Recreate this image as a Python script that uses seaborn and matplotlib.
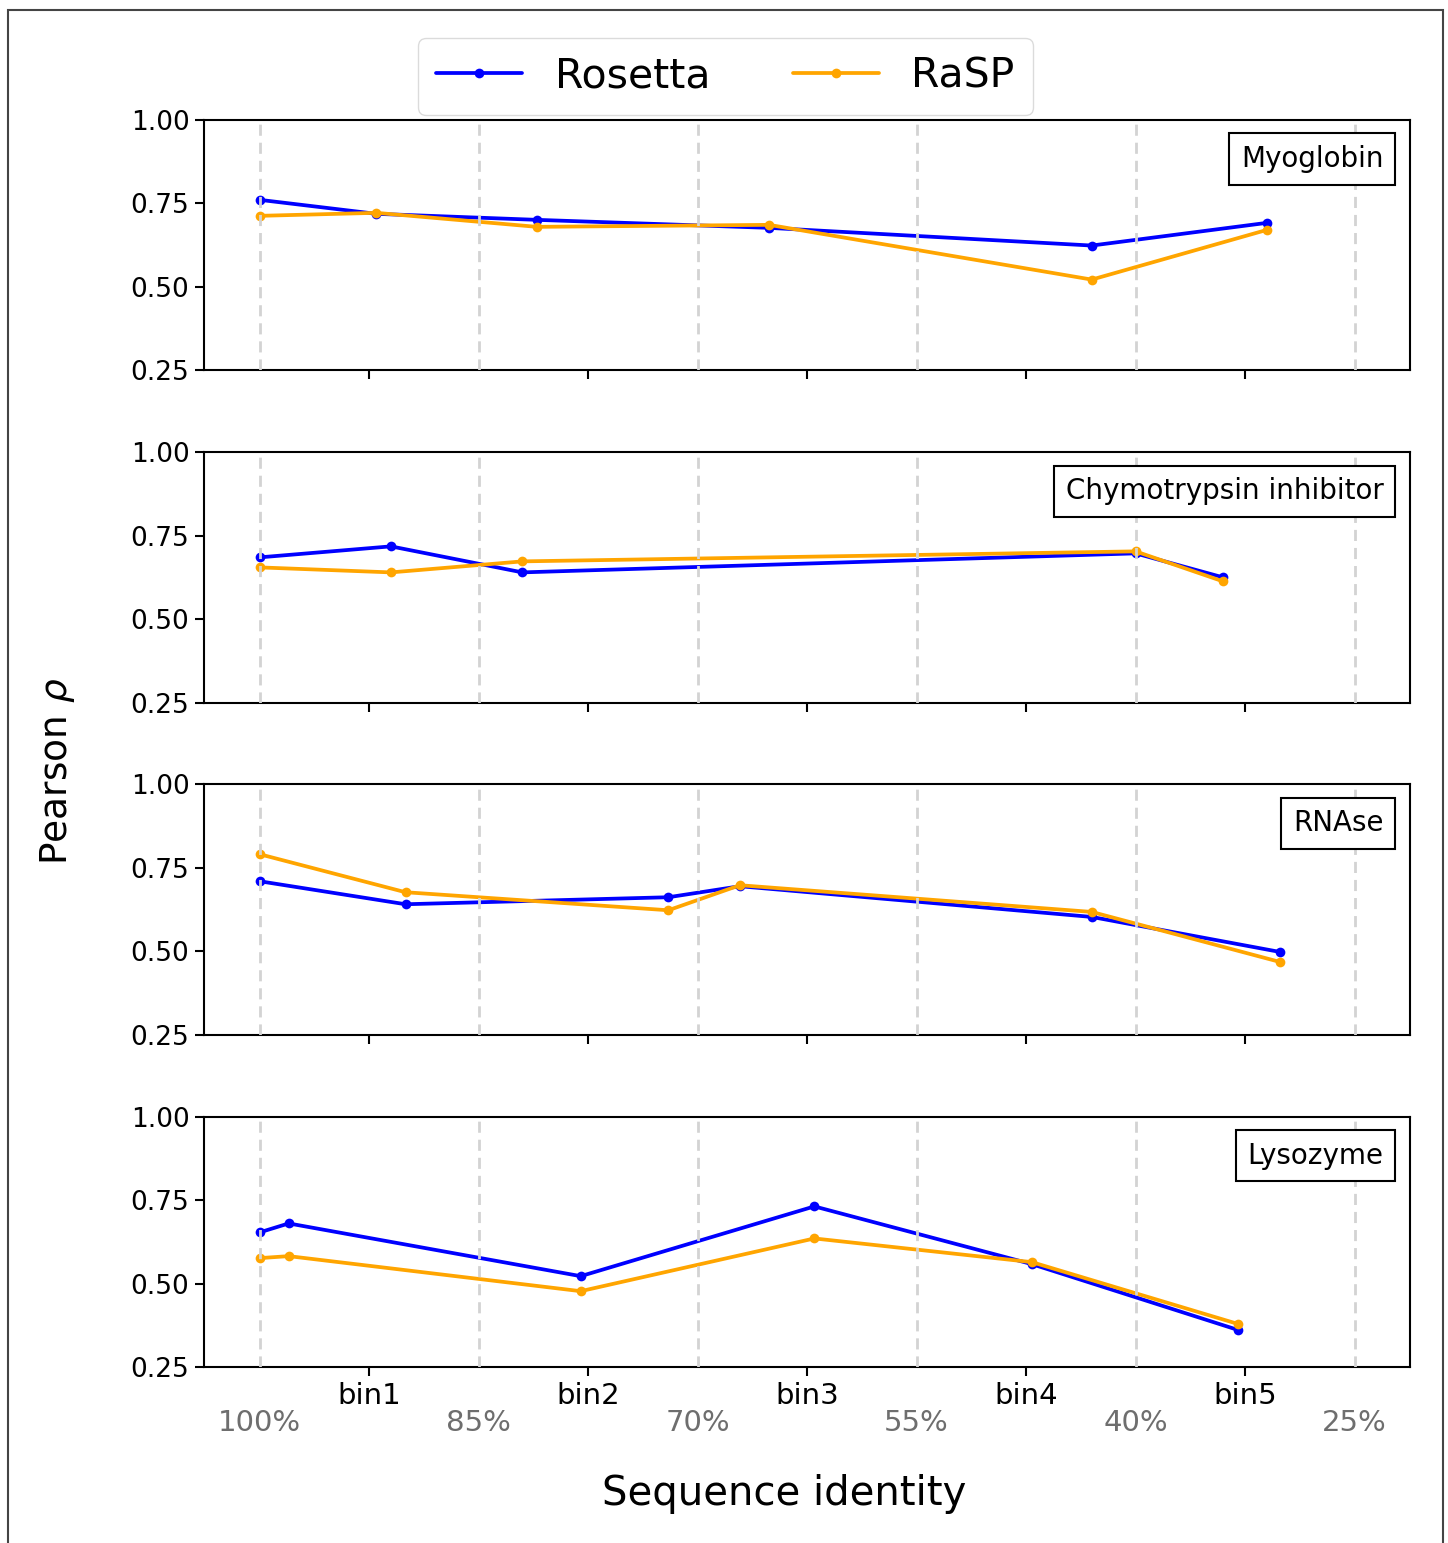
'''
    Pearson rho vs sequence identity, Rosetta vs RaSP
'''

import matplotlib.pyplot as plt
import pandas as pd
import seaborn as sns
from matplotlib.lines import Line2D
from matplotlib.patches import Rectangle

# ---------------------------------------- data ----------------------------------------
proteins = ['Myoglobin', 'Chymotrypsin inhibitor', 'RNAse', 'Lysozyme']

myo_identity = [100, 92.0, 81.0, 65.1, 43.0, 31.0]
myo_rosetta = [0.761, 0.719, 0.701, 0.677, 0.624, 0.692]
myo_rasp = [0.713, 0.722, 0.680, 0.686, 0.522, 0.671]

chy_identity = [100, 91.0, 82.0, 40.0, 34.0]
chy_rosetta = [0.685, 0.718, 0.640, 0.697, 0.625]
chy_rasp = [0.655, 0.640, 0.673, 0.703, 0.613]

rna_identity = [100, 90.0, 72.0, 67.1, 43.0, 30.1]
rna_rosetta = [0.710, 0.641, 0.662, 0.695, 0.603, 0.498]
rna_rasp = [0.791, 0.677, 0.623, 0.698, 0.618, 0.468]

lys_identity = [100, 98.0, 78.0, 62.0, 47.1, 33.0]
lys_rosetta = [0.653, 0.680, 0.522, 0.731, 0.558, 0.361]
lys_rasp = [0.576, 0.582, 0.477, 0.635, 0.564, 0.379]

bin_pos = [92.5, 77.5, 62.5, 47.5, 32.5]
bin_labels = ['bin1', 'bin2', 'bin3', 'bin4', 'bin5']
pct_pos = [100, 85, 70, 55, 40, 25]
pct_labels = ['100%', '85%', '70%', '55%', '40%', '25%']
y_ticks = [0.25, 0.50, 0.75, 1.00]

panels = [
    (myo_identity, myo_rosetta, myo_rasp),
    (chy_identity, chy_rosetta, chy_rasp),
    (rna_identity, rna_rosetta, rna_rasp),
    (lys_identity, lys_rosetta, lys_rasp),
]
colors = {'Rosetta': 'blue', 'RaSP': 'orange'}

# ---------------------------------------- plot ----------------------------------------
sns.set_style('ticks')
plt.rcParams['font.family'] = ['DejaVu Sans']
plt.rcParams.update({'text.color': 'black', 'axes.labelcolor': 'black',
                     'xtick.color': 'black', 'ytick.color': 'black',
                     'axes.edgecolor': 'black'})

fig, axes = plt.subplots(4, 1, figsize=(14.48, 15.43), dpi=100, sharex=True,
                         gridspec_kw=dict(left=0.1409, right=0.9738, top=0.9222,
                                          bottom=0.1141, hspace=0.327))

for ax, name, (ident, ros, rasp) in zip(axes, proteins, panels):
    df = pd.DataFrame({
        'identity': ident + ident,
        'rho': ros + rasp,
        'method': ['Rosetta'] * len(ident) + ['RaSP'] * len(ident),
    })
    sns.lineplot(data=df, x='identity', y='rho', hue='method', palette=colors,
                 marker='o', markersize=7, markeredgewidth=0, linewidth=2.7,
                 legend=False, ax=ax)
    for p in pct_pos:
        ax.axvline(p, color='lightgray', ls=(0, (4, 2.5)), lw=2, zorder=5)

    ax.set_xlim(103.8, 21.2)
    ax.set_ylim(0.25, 1.00)
    ax.set_yticks(y_ticks)
    ax.set_yticklabels([f'{v:.2f}' for v in y_ticks])
    ax.set_xticks(bin_pos)
    ax.set_xticklabels(bin_labels)
    ax.set_xticks(pct_pos, pct_labels, minor=True)
    ax.set_xlabel('')
    ax.set_ylabel('')
    for s in ax.spines.values():
        s.set_linewidth(1.5)
    ax.tick_params(axis='both', which='major', width=1.5, length=6.5, pad=4)
    ax.tick_params(axis='y', which='major', labelsize=19)
    ax.tick_params(axis='x', which='major', labelsize=21)
    ax.tick_params(axis='x', which='minor', length=0, labelsize=21, pad=30,
                   labelcolor='#6e6e6e')

    ax.text(0.978, 0.90, name, transform=ax.transAxes, ha='right', va='top',
            fontsize=20, zorder=10,
            bbox=dict(boxstyle='square,pad=0.42', fc='white', ec='black', lw=1.5))

# legend
handles = [Line2D([], [], color=colors[m], lw=2.7, marker='o', markersize=7,
                  markeredgewidth=0) for m in ['Rosetta', 'RaSP']]
fig.legend(handles, ['Rosetta', 'RaSP'], loc='upper center', bbox_to_anchor=(0.501, 0.9754),
           borderaxespad=0, ncol=2, fontsize=29.5, frameon=True, fancybox=True,
           edgecolor='lightgray', handlelength=2.1, columnspacing=2.0, borderpad=0.45)

fig.text(0.04, 0.5, r'Pearson $\rho$', rotation=90, ha='center', va='center', fontsize=27)
fig.text(0.5418, 0.032, 'Sequence identity', ha='center', va='center', fontsize=29)

# figure frame
fig.add_artist(Rectangle((8 / 1448, -0.01), (1443 - 8) / 1448, 1.01 - 10 / 1543,
                         transform=fig.transFigure, fill=False, ec='#444444', lw=1.5))

plt.savefig('out.png', dpi=100)
